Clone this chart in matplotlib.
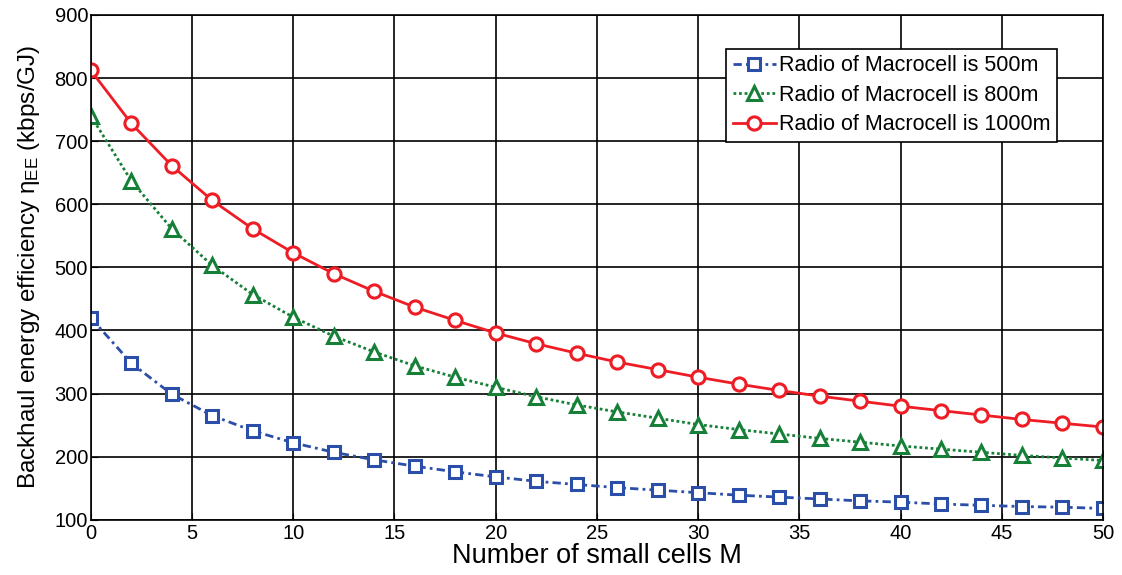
import numpy as np
import matplotlib
matplotlib.use("Agg")
import matplotlib.pyplot as plt

plt.rcParams["font.family"] = ["Liberation Sans", "DejaVu Sans"]
plt.rcParams["mathtext.fontset"] = "custom"
plt.rcParams["mathtext.rm"] = "Liberation Sans"
plt.rcParams["mathtext.it"] = "Liberation Sans"

# small cell counts
m_cells = [0, 2, 4, 6, 8, 10, 12, 14, 16, 18, 20, 22, 24, 26, 28, 30,
           32, 34, 36, 38, 40, 42, 44, 46, 48, 50]

# backhaul energy efficiency (kbps/GJ) per macrocell radius
ee_500m = [420, 348, 299, 265, 241, 222, 207, 195, 185, 176, 168, 161, 156,
           151, 147, 143, 139, 136, 133, 130, 128, 125, 123, 121, 120, 118]
ee_800m = [740, 637, 561, 503, 457, 421, 391, 366, 344, 326, 310, 295, 282,
           271, 261, 251, 243, 236, 229, 223, 217, 212, 207, 202, 198, 194]
ee_1000m = [812, 728, 661, 606, 561, 523, 490, 462, 437, 416, 396, 379, 364,
            350, 338, 326, 315, 305, 296, 288, 280, 273, 266, 259, 253, 247]

labels = ["Radio of Macrocell is 500m", "Radio of Macrocell is 800m",
          "Radio of Macrocell is 1000m"]

fig = plt.figure(figsize=(11.22, 5.75), dpi=100)
ax = fig.add_axes([0.081, 0.096, 0.902, 0.878])

ax.plot(m_cells, ee_500m, color="#2B4EA8", linestyle=(0, (3, 1.5, 1, 1.5)),
        linewidth=2, marker="s", markersize=8, markerfacecolor="white",
        markeredgewidth=2.2, label=labels[0])
ax.plot(m_cells, ee_800m, color="#178038", linestyle=(0, (1, 1)), linewidth=2,
        marker="^", markersize=10, markerfacecolor="white",
        markeredgewidth=2.2, label=labels[1])
ax.plot(m_cells, ee_1000m, color="#EE1C24", linestyle="-", linewidth=2,
        marker="o", markersize=9.5, markerfacecolor="white",
        markeredgewidth=2.2, label=labels[2])

ax.set_xlim(0, 50)
ax.set_ylim(100, 900)
ax.set_xticks(np.arange(0, 51, 5))
ax.set_yticks(np.arange(100, 901, 100))
ax.grid(True, color="black", linestyle="-", linewidth=1.2)
ax.tick_params(labelsize=14.5, direction="in", length=5)
ax.tick_params(axis="x", pad=3)
ax.tick_params(axis="y", pad=2)
for s in ax.spines.values():
    s.set_linewidth(1.2)

ax.set_xlabel("Number of small cells M", fontsize=19.5, labelpad=0)
ax.set_ylabel("Backhaul energy efficiency $\\eta_{EE}$ (kbps/GJ)",
              fontsize=17.5, labelpad=9)

leg = ax.legend(loc="upper left", bbox_to_anchor=(0.628, 0.933),
                fontsize=15.5, fancybox=False, framealpha=1, edgecolor="black",
                handlelength=2.0, handletextpad=0.15, borderpad=0.3,
                labelspacing=0.4, borderaxespad=0)
leg.get_frame().set_linewidth(1.2)

fig.savefig("out.png", dpi=100)
